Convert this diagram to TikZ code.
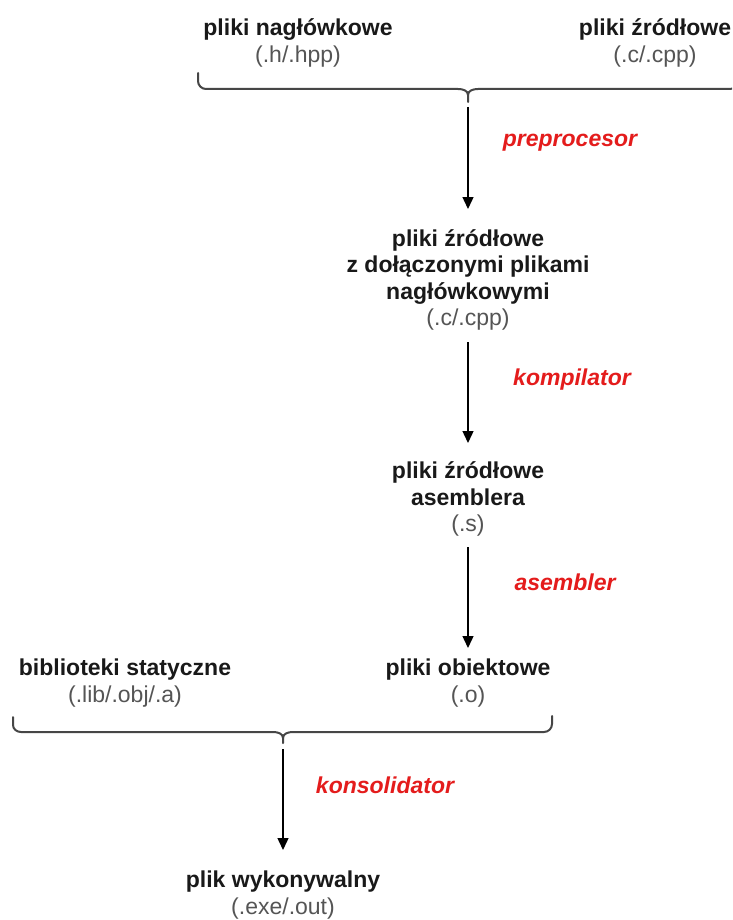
\documentclass[tikz,border=0pt]{standalone}
\usepackage{fontspec}
\setmainfont{Liberation Sans}
\usetikzlibrary{arrows.meta}
\definecolor{txt}{RGB}{25,25,25}
\definecolor{ext}{RGB}{85,85,85}
\definecolor{lbl}{RGB}{228,28,28}
\definecolor{brc}{RGB}{70,70,70}
\tikzset{
  box/.style={align=center, inner sep=0pt, text=txt, font=\fontsize{23}{26.5}\selectfont},
  edgelbl/.style={inner sep=0pt, text=lbl, font=\fontsize{23}{26.5}\selectfont\bfseries\itshape},
  arr/.style={draw=black, line width=1.4pt, -{Triangle[length=12pt,width=11pt]}},
  brace/.style={draw=brc, line width=2pt, line cap=round, line join=round}
}
\newcommand{\extt}[1]{\textcolor{ext}{\mdseries #1}}
\begin{document}
\begin{tikzpicture}[x=1pt,y=-1pt]
\clip (0,0) rectangle (732,920);
\fill[white] (0,0) rectangle (732,920);

% nodes
\node[box] (hdr) at (298,43) {\textbf{pliki nagłówkowe}\\\extt{(.h/.hpp)}};
\node[box] (src) at (655,43) {\textbf{pliki źródłowe}\\\extt{(.c/.cpp)}};
\node[box] (mid) at (468,280) {\textbf{pliki źródłowe}\\\textbf{z dołączonymi plikami}\\\textbf{nagłówkowymi}\\\extt{(.c/.cpp)}};
\node[box] (asm) at (468,499) {\textbf{pliki źródłowe}\\\textbf{asemblera}\\\extt{(.s)}};
\node[box] (lib) at (125,683) {\textbf{biblioteki statyczne}\\\extt{(.lib/.obj/.a)}};
\node[box] (obj) at (468,683) {\textbf{pliki obiektowe}\\\extt{(.o)}};
\node[box] (exe) at (283,895) {\textbf{plik wykonywalny}\\\extt{(.exe/.out)}};

% braces
\coordinate (t1) at (468,102);
\draw[brace] (198,73) -- (198,81) to[out=-90,in=180] (206,89) -- (458,89) to[out=0,in=90] (468,95) -- (t1);
\draw[brace] (738,73) -- (738,81) to[out=-90,in=0] (730,89) -- (478,89) to[out=180,in=90] (468,95);
\coordinate (t2) at (283,743);
\draw[brace] (13,717) -- (13,725) to[out=-90,in=180] (21,732) -- (273,732) to[out=0,in=90] (283,738) -- (t2);
\draw[brace] (552,716) -- (552,724) to[out=-90,in=0] (544,732) -- (293,732) to[out=180,in=90] (283,738);

% connectors
\draw[arr] ([yshift=-5pt]t1) -- (468,209) coordinate (e1);
\draw[arr] (mid.south |- 0,342) -- (468,443);
\draw[arr] (468,547) -- (468,648);
\draw[arr] ([yshift=-6pt]t2) -- (283,850);

% edge labels
\node[edgelbl] (l1) at (570,143) {preprocesor};
\node[edgelbl] (l2) at (572,380) {kompilator};
\node[edgelbl] (l3) at (565,582) {asembler};
\node[edgelbl] (l4) at (385,785) {konsolidator};
\end{tikzpicture}
\end{document}
